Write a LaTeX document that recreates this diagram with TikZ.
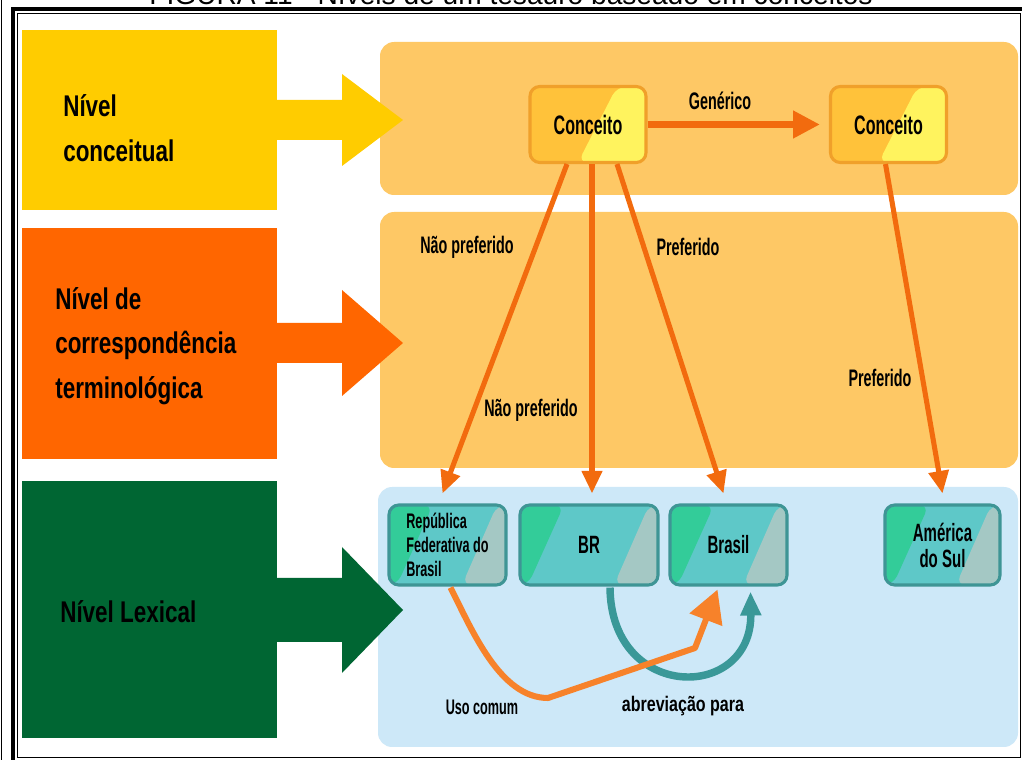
\documentclass[tikz,border=0pt]{standalone}
\usepackage{fontspec}
\setmainfont{Liberation Sans}
\newfontfamily\titlefont{Liberation Sans}
\newfontfamily\lvlfont{Liberation Sans}[FakeStretch=0.75]
\newfontfamily\nfont{Liberation Sans}[FakeStretch=0.6]
\newfontfamily\mfont{Liberation Sans}[FakeStretch=0.76]
\usetikzlibrary{arrows.meta,calc}

\definecolor{lvlyellow}{HTML}{FFCC00}
\definecolor{lvlorange}{HTML}{FF6600}
\definecolor{lvlgreen}{HTML}{006633}
\definecolor{panelorange}{HTML}{FEC865}
\definecolor{panelblue}{HTML}{CDE8F8}
\definecolor{arroworange}{HTML}{F26B0E}
\definecolor{conceptdark}{HTML}{FFC23A}
\definecolor{conceptlight}{HTML}{FFF35E}
\definecolor{conceptedge}{HTML}{F0A02A}
\definecolor{lexgreen}{HTML}{33CC99}
\definecolor{lexmid}{HTML}{5EC8C8}
\definecolor{lexgrey}{HTML}{A4C8C4}
\definecolor{lexedge}{HTML}{3E9595}
\definecolor{usoorange}{HTML}{F7822A}
\definecolor{abrevteal}{HTML}{3A9898}

\tikzset{
  lvltext/.style={font=\lvlfont\bfseries\fontsize{21.3}{32}\selectfont, align=left, inner sep=0pt},
  lbl/.style={font=\nfont\bfseries\fontsize{17}{20}\selectfont, inner sep=0pt},
  concept/.style={draw=conceptedge, line width=2.2pt, rounded corners=7pt,
    minimum width=2.9cm, minimum height=1.9cm, fill=conceptdark, inner sep=0pt,
    font=\nfont\bfseries\fontsize{19}{22}\selectfont,
    path picture={\fill[conceptlight]
      ($(path picture bounding box.north west)+(87,0)$) --
      (path picture bounding box.north east) --
      (path picture bounding box.south east) --
      ($(path picture bounding box.south west)+(48,0)$) -- cycle;}},
  lexical/.style={draw=lexedge, line width=2.2pt, rounded corners=7pt,
    minimum height=2cm, fill=lexmid, inner sep=2pt, align=center,
    font=\nfont\bfseries\fontsize{17.8}{18.5}\selectfont,
    path picture={
      \fill[lexgreen] (path picture bounding box.north west) --
        ($(path picture bounding box.north west)+(44,0)$) --
        ($(path picture bounding box.south west)+(8,0)$) --
        (path picture bounding box.south west) -- cycle;
      \fill[lexgrey] ($(path picture bounding box.north east)+(-9,0)$) --
        (path picture bounding box.north east) --
        (path picture bounding box.south east) --
        ($(path picture bounding box.south east)+(-44,0)$) -- cycle;}},
  relarrow/.style={draw=arroworange, line width=3.6pt,
    -{Triangle[length=16pt,width=14pt]}},
  genarrow/.style={draw=arroworange, line width=5.5pt,
    -{Triangle[length=19pt,width=18.5pt]}},
  usoline/.style={draw=usoorange, line width=4.3pt, line join=round,
    -{Triangle[length=23pt,width=24pt]}},
  abrevline/.style={draw=abrevteal, line width=5.3pt,
    -{Triangle[length=17pt,width=14pt]}}
}

\begin{document}
\begin{tikzpicture}[x=0.025cm, y=-0.025cm]
\useasboundingbox (0,0) rectangle (1022,760);
\clip (0,0) rectangle (1022,760);
\fill[white] (0,0) rectangle (1022,760);

% caption, cut by the top edge of the page
\node[font=\titlefont\fontsize{20}{24}\selectfont, anchor=base, inner sep=0pt]
  (title) at (511,5) {FIGURA 11 - Níveis de um tesauro baseado em conceitos};

% frame
\draw[line width=2.8pt] (13,760) -- (13,9) -- (1022,9);
\draw[line width=0.6pt] (17,757) -- (17,13.5) -- (1020,13.5) -- (1020,757) -- cycle;
\draw[line width=0.8pt] (1.5,0) -- (1.5,760);

% panels
\fill[panelorange, rounded corners=10pt] (380,42) rectangle (1018,195);
\fill[panelorange, rounded corners=10pt] (380,212) rectangle (1018,468);
\fill[panelblue, rounded corners=10pt] (378,487) rectangle (1018,747);

% level blocks with their block arrows
\fill[lvlyellow] (22,30) rectangle (277,210);
\fill[lvlyellow] (276,100) -- (342,100) -- (342,74) -- (403,120) -- (342,166)
  -- (342,140) -- (276,140) -- cycle;
\node[lvltext, anchor=base west] (lvlA) at (63,162) {Nível\\conceitual};

\fill[lvlorange] (22,228) rectangle (277,459);
\fill[lvlorange] (276,323) -- (342,323) -- (342,290) -- (403,343) -- (342,396)
  -- (342,363) -- (276,363) -- cycle;
\node[lvltext, anchor=base west] (lvlB) at (55,399) {Nível de\\correspondência\\terminológica};

\fill[lvlgreen] (22,481) rectangle (277,738);
\fill[lvlgreen] (276,578) -- (342,578) -- (342,547) -- (403,610) -- (342,673)
  -- (342,642) -- (276,642) -- cycle;
\node[lvltext, anchor=base west] (lvlC) at (60,623) {Nível Lexical};

% concepts
\node[concept] (c1) at (588,124.5) {Conceito};
\node[concept] (c2) at (888.5,124.5) {Conceito};

% lexical terms
\node[lexical, minimum width=2.925cm, align=left,
  font=\nfont\bfseries\fontsize{15}{17}\selectfont] (rep) at (447.5,545)
  {República\\Federativa do\\Brasil};
\node[lexical, minimum width=3.45cm] (br) at (589,545) {BR};
\node[lexical, minimum width=2.925cm] (bra) at (728.5,545) {Brasil};
\node[lexical, minimum width=2.875cm] (ams) at (942.5,545) {América\\do Sul};

% relations
\draw[genarrow] (c1.east) -- ($(c2.west)+(-9,0)$);
\node[lbl] (lgen) at (720,101) {Genérico};

\draw[relarrow] ($(c1.south)+(-21,0)$) -- ($(rep.north)+(-5,-10)$);
\draw[relarrow] ($(c1.south)+(4,0)$) -- ($(br.north)+(3,-10)$);
\draw[relarrow] ($(c1.south)+(29,0)$) -- ($(bra.north)+(-5,-10)$);
\draw[relarrow] ($(c2.south)+(-3,0)$) -- ($(ams.north)+(0,-10)$);

\node[lbl] (lnp1) at (467,247) {Não preferido};
\node[lbl] (lp1) at (688,247) {Preferido};
\node[lbl] (lnp2) at (531,410) {Não preferido};
\node[lbl] (lp2) at (880,378) {Preferido};

\draw[abrevline] ($(br.south)+(21,1)$) .. controls (611,702) and (752,702) .. ($(bra.south)+(22,5)$);
\draw[usoline] ($(rep.south)+(3,1)$) .. controls (472,630) and (500,698) .. (548,698)
  -- (695,648) -- ($(bra.south)+(-11,3)$);

\node[font=\nfont\bfseries\fontsize{15}{18}\selectfont, inner sep=0pt] (luso) at (482,707) {Uso comum};
\node[font=\mfont\bfseries\fontsize{15}{18}\selectfont, inner sep=0pt] (labr) at (683,706) {abreviação para};
\end{tikzpicture}
\end{document}
